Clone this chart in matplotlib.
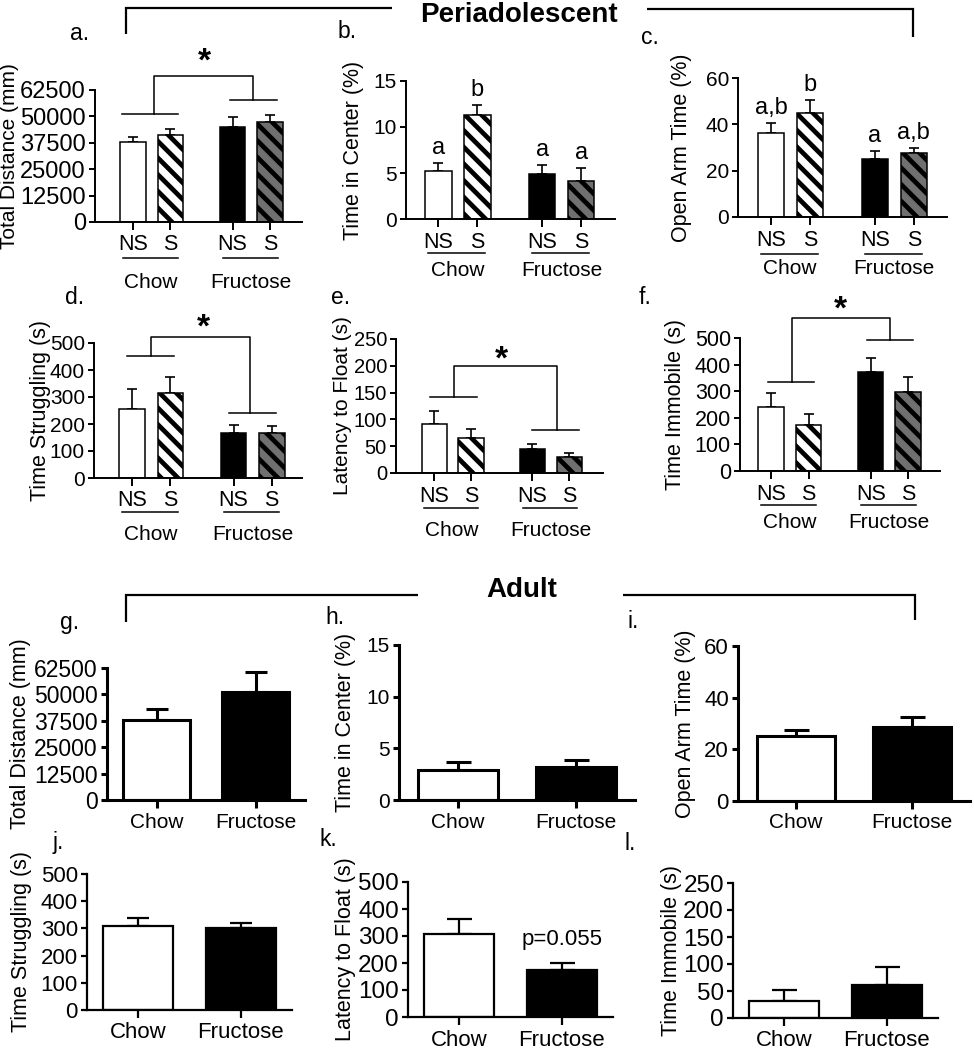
import matplotlib
matplotlib.use('Agg')
import matplotlib.pyplot as plt
from matplotlib import transforms
from matplotlib.lines import Line2D
import numpy as np

plt.rcParams['font.family'] = ['Liberation Sans', 'DejaVu Sans']
plt.rcParams['hatch.linewidth'] = 3.4
plt.rcParams['hatch.color'] = 'black'

W, H, DPI = 974, 1050, 100

# ---------------- data ----------------
peri_ticklabels = ['NS', 'S', 'NS', 'S']
peri_groups = ['Chow', 'Fructose']
adult_categories = ['Chow', 'Fructose']

a_mean = [38000, 41100, 44900, 47500]
a_sem = [2200, 2900, 4600, 3200]
b_mean = [5.2, 11.3, 4.9, 4.1]
b_sem = [0.9, 1.1, 0.95, 1.45]
b_letters = ['a', 'b', 'a', 'a']
c_mean = [36.1, 44.8, 25.0, 27.5]
c_sem = [4.4, 5.5, 3.6, 2.4]
c_letters = ['a,b', 'b', 'a', 'a,b']
d_mean = [254, 316, 165, 165]
d_sem = [77, 59, 31, 29]
e_mean = [91, 66, 44, 30]
e_sem = [24, 16.5, 10, 7.5]
f_mean = [240, 172, 374, 298]
f_sem = [53, 43, 49, 54]

g_mean = [37800, 51100]
g_sem = [5100, 9500]
h_mean = [2.9, 3.2]
h_sem = [0.8, 0.65]
i_mean = [25.2, 28.8]
i_sem = [2.3, 3.8]
j_mean = [309, 303]
j_sem = [30, 18]
k_mean = [309, 173]
k_sem = [55, 27]
k_note = 'p=0.055'
l_mean = [30.7, 61.4]
l_sem = [21.3, 33.8]

dist_ticks = [0, 12500, 25000, 37500, 50000, 62500]
center_ticks = [0, 5, 10, 15]
openarm_ticks = [0, 20, 40, 60]
s500_ticks = [0, 100, 200, 300, 400, 500]
s250_ticks = [0, 50, 100, 150, 200, 250]

# ---------------- layout ----------------
fig = plt.figure(figsize=(W / DPI, H / DPI), dpi=DPI)
FS = 15


def add_ax(left, right, top, bottom):
    return fig.add_axes([left / W, 1 - bottom / H, (right - left) / W, (bottom - top) / H])


def below(ax, px):
    return transforms.offset_copy(ax.get_xaxis_transform(), fig=fig, x=0,
                                  y=-px * 72 / DPI, units='points')


def style_axis(ax, box, yticks, ylabel, lw, ylab_x, tfs, xfs, lfs):
    for s in ['top', 'right']:
        ax.spines[s].set_visible(False)
    for s in ['left', 'bottom']:
        ax.spines[s].set_linewidth(lw)
    ax.set_ylim(0, yticks[-1])
    ax.set_yticks(yticks)
    ax.set_yticklabels([str(t) for t in yticks])
    ax.tick_params(axis='y', direction='out', length=4.5, width=lw, labelsize=tfs, pad=2)
    ax.tick_params(axis='x', direction='out', length=6, width=lw, labelsize=xfs, pad=3)
    ax.set_ylabel(ylabel, fontsize=lfs, va='center')
    left, right = box[0], box[1]
    ax.yaxis.set_label_coords((ylab_x - left) / (right - left), 0.5)


peri_pos = np.array([0, 1, 2.66, 3.66])
peri_face = ['white', 'white', 'black', '#707070']
peri_hatch = [None, '\\\\', None, '\\\\']


def peri_panel(box, xlim, mean, sem, yticks, ylabel, offs, ylab_x, tfs=15, lfs=15.5):
    ax = add_ax(*box)
    for p, m, fc, ht in zip(peri_pos, mean, peri_face, peri_hatch):
        ax.bar(p, m, width=0.68, color=fc, edgecolor='black', linewidth=1.1,
               hatch=ht, zorder=2)
    ax.errorbar(peri_pos, mean, yerr=[np.zeros(len(mean)), sem], fmt='none',
                ecolor='black', elinewidth=1.2, capsize=3.3, capthick=1.2, zorder=1)
    ax.set_xlim(*xlim)
    ax.set_xticks(peri_pos)
    ax.set_xticklabels(peri_ticklabels)
    style_axis(ax, box, yticks, ylabel, 1.4, ylab_x, tfs, 15.5, lfs)
    ul_off, txt_off = offs
    for (x0, x1), name in zip([(peri_pos[0] - 0.27, peri_pos[1] + 0.2),
                               (peri_pos[2] - 0.25, peri_pos[3] + 0.2)], peri_groups):
        ax.plot([x0, x1], [0, 0], color='black', lw=1.1, transform=below(ax, ul_off),
                clip_on=False)
        ax.text((x0 + x1) / 2 + 0.02, 0, name, transform=below(ax, txt_off),
                ha='center', va='center', fontsize=FS)
    return ax


def bracket(ax, chow_span, chow_y, fru_span, fru_y, conn_x, top_y, star):
    kw = dict(color='black', lw=1.1, clip_on=False)
    ax.plot(chow_span, [chow_y, chow_y], **kw)
    ax.plot(fru_span, [fru_y, fru_y], **kw)
    ax.plot([conn_x[0], conn_x[0], conn_x[1], conn_x[1]],
            [chow_y, top_y, top_y, fru_y], **kw)
    ax.text(star[0], star[1], '*', ha='center', va='center', fontsize=24,
            fontweight='bold', clip_on=False)


def letters(ax, mean, sem, labels):
    for p, m, s, t in zip(peri_pos, mean, sem, labels):
        ax.annotate(t, (p, m + s), xytext=(0, 3), textcoords='offset points',
                    ha='center', va='bottom', fontsize=FS + 2)


adult_pos = np.array([0, 1])
adult_face = ['white', 'black']


def adult_panel(box, mean, sem, yticks, ylabel, lw, cap, ylab_x, tfs=15, xfs=15, lfs=15.5):
    ax = add_ax(*box)
    ax.bar(adult_pos, mean, width=0.68, color=adult_face, edgecolor='black',
           linewidth=lw, zorder=2)
    ax.errorbar(adult_pos, mean, yerr=[np.zeros(len(mean)), sem], fmt='none',
                ecolor='black', elinewidth=lw, capsize=cap, capthick=lw, zorder=1)
    ax.set_xlim(-0.5, 1.5)
    ax.set_xticks(adult_pos)
    ax.set_xticklabels(adult_categories)
    style_axis(ax, box, yticks, ylabel, lw, ylab_x, tfs, xfs, lfs)
    return ax


# ---- periadolescent ----
ax_a = peri_panel((95, 302, 90, 222), (-1.01, 4.51), a_mean, a_sem, dist_ticks,
                  'Total Distance (mm)', (36, 61), 10, tfs=17, lfs=15)
bracket(ax_a, [-0.29, 1.2], 51000, [2.59, 3.84], 57800, [0.56, 3.2], 69100, (1.92, 75500))

ax_b = peri_panel((406, 615, 81, 219), (-0.83, 4.53), b_mean, b_sem, center_ticks,
                  'Time in Center (%)', (34, 51), 354)
letters(ax_b, b_mean, b_sem, b_letters)

ax_c = peri_panel((738, 947, 78, 217), (-0.85, 4.51), c_mean, c_sem, openarm_ticks,
                  'Open Arm Time (%)', (37, 51), 682)
letters(ax_c, c_mean, c_sem, c_letters)

ax_d = peri_panel((94, 302, 343, 478), (-1.01, 4.46), d_mean, d_sem, s500_ticks,
                  'Time Struggling (s)', (34, 57), 41)
bracket(ax_d, [-0.13, 1.09], 453, [2.53, 3.77], 242, [0.5, 3.09], 523, (1.86, 557))

ax_e = peri_panel((396, 603, 339, 473), (-1.03, 4.57), e_mean, e_sem, s250_ticks,
                  'Latency to Float (s)', (35, 57), 342, tfs=14.5, lfs=15)
bracket(ax_e, [-0.11, 1.15], 141, [2.66, 3.93], 81, [0.54, 3.33], 199, (1.83, 211))

ax_f = peri_panel((740, 940, 338, 471), (-0.83, 4.51), f_mean, f_sem, s500_ticks,
                  'Time Immobile (s)', (34, 51), 675, tfs=15.5)
bracket(ax_f, [-0.09, 1.15], 334, [2.55, 3.79], 494, [0.55, 3.17], 575, (1.86, 606))

# ---- adult ----
adult_panel((107, 305, 668, 800), g_mean, g_sem, dist_ticks, 'Total Distance (mm)',
            2.2, 8, 21, tfs=16.5)
adult_panel((399, 635, 645, 800), h_mean, h_sem, center_ticks, 'Time in Center (%)',
            2.2, 9, 345)
adult_panel((738, 970, 646, 801), i_mean, i_sem, openarm_ticks, 'Open Arm Time (%)',
            2.2, 9, 686, tfs=16)
adult_panel((87, 292, 874, 1010), j_mean, j_sem, s500_ticks, 'Time Struggling (s)',
            1.6, 8, 22, tfs=16, xfs=16)
ax_k = adult_panel((408, 613, 882, 1017), k_mean, k_sem, s500_ticks, 'Latency to Float (s)',
                   1.6, 9, 346, tfs=17.5, xfs=16)
ax_k.annotate(k_note, (adult_pos[1], k_mean[1] + k_sem[1]), xytext=(0, 9),
              textcoords='offset points', ha='center', va='bottom', fontsize=FS + 1)
adult_panel((733, 938, 883, 1018), l_mean, l_sem, s250_ticks, 'Time Immobile (s)',
            1.6, 9, 672, tfs=17.5, xfs=16)


# ---- figure-level brackets, titles and panel letters ----
def fig_line(xs, ys, lw=1.6):
    fig.add_artist(Line2D([x / W for x in xs], [1 - y / H for y in ys],
                          transform=fig.transFigure, color='black', lw=lw,
                          solid_capstyle='butt', solid_joinstyle='miter'))


def fig_text(x, y, s, **kw):
    fig.text(x / W, 1 - y / H, s, **kw)


fig_line([126, 126, 392], [34, 8, 8])
fig_line([647, 913, 913], [9, 9, 37])
fig_text(519, 15, 'Periadolescent', ha='center', va='center', fontsize=20, fontweight='bold')
fig_line([126, 126, 418], [622, 595, 595])
fig_line([623, 915, 915], [595, 595, 620])
fig_text(522, 590, 'Adult', ha='center', va='center', fontsize=20, fontweight='bold')

panel_letters = {'a.': (80, 33), 'b.': (347, 32), 'c.': (650, 38),
                 'd.': (75, 297), 'e.': (341, 297), 'f.': (645, 298),
                 'g.': (70, 622), 'h.': (335, 618), 'i.': (633, 622),
                 'j.': (58, 842), 'k.': (328, 840), 'l.': (630, 843)}
for t, (x, y) in panel_letters.items():
    fig_text(x, y, t, ha='center', va='center', fontsize=FS + 1.5)

fig.savefig('out.png', dpi=DPI)
